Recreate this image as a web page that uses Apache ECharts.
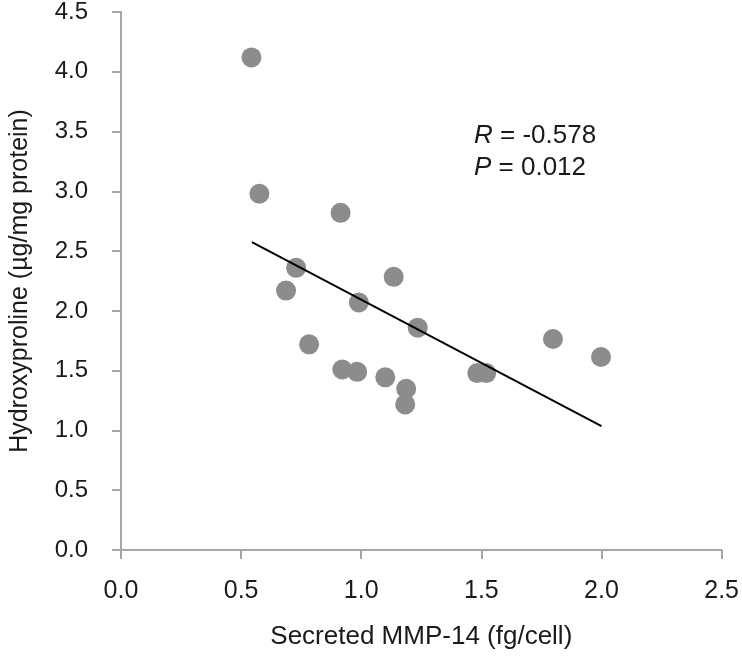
<!DOCTYPE html>
<html>
<head>
<meta charset="utf-8">
<script src="https://cdn.jsdelivr.net/npm/echarts@6/dist/echarts.min.js"></script>
<style>
html,body{margin:0;padding:0;background:#fff;}
#chart{width:742px;height:663px;}
</style>
</head>
<body>
<div id="chart"></div>
<script>
// Data
var mmp14 = [0.543, 0.576, 0.914, 0.729, 0.687, 0.990, 1.135, 1.235, 1.798, 1.998, 1.483, 1.520, 1.100, 1.187, 1.183, 0.783, 0.921, 0.983];
var hydroxyproline = [4.12, 2.98, 2.82, 2.36, 2.17, 2.07, 2.285, 1.86, 1.765, 1.614, 1.48, 1.48, 1.444, 1.349, 1.218, 1.72, 1.51, 1.49];
var trendX = [0.545, 2.0];
var trendY = [2.575, 1.037];
var xTicks = [0, 0.5, 1.0, 1.5, 2.0, 2.5];
var yTicks = [0, 0.5, 1.0, 1.5, 2.0, 2.5, 3.0, 3.5, 4.0, 4.5];
var statR = '-0.578';
var statP = '0.012';

var points = mmp14.map(function (x, i) { return [x, hydroxyproline[i]]; });
var trend = trendX.map(function (x, i) { return [x, trendY[i]]; });

var axisGray = '#a6a6a6';
var font = 'Liberation Sans, Arial, sans-serif';
var chart = echarts.init(document.getElementById('chart'), null, {renderer: 'canvas'});
chart.setOption({
  animation: false,
  backgroundColor: '#ffffff',
  grid: {left: 120, right: 16, top: 12, bottom: 113, containLabel: false},
  xAxis: {
    type: 'value', min: xTicks[0], max: xTicks[xTicks.length - 1], interval: 0.5,
    name: 'Secreted MMP-14 (fg/cell)', nameLocation: 'middle', nameGap: 74,
    nameTextStyle: {fontFamily: font, fontSize: 26, color: '#1a1a1a'},
    axisLine: {show: true, lineStyle: {color: axisGray, width: 2}},
    axisTick: {show: true, length: 9, lineStyle: {color: axisGray, width: 2}},
    axisLabel: {margin: 29, fontFamily: font, fontSize: 25, color: '#1a1a1a',
      formatter: function (v) { return v.toFixed(1); }},
    splitLine: {show: false}
  },
  yAxis: {
    type: 'value', min: yTicks[0], max: yTicks[yTicks.length - 1], interval: 0.5,
    name: 'Hydroxyproline (µg/mg protein)', nameLocation: 'middle', nameGap: 88,
    nameTextStyle: {fontFamily: font, fontSize: 25, color: '#1a1a1a'},
    axisLine: {show: true, lineStyle: {color: axisGray, width: 2}},
    axisTick: {show: true, length: 9, lineStyle: {color: axisGray, width: 2}},
    axisLabel: {margin: 33, fontFamily: font, fontSize: 24, color: '#1a1a1a',
      formatter: function (v) { return v.toFixed(1); }},
    splitLine: {show: false}
  },
  graphic: [{
    type: 'text', left: 474, top: 120,
    style: {
      text: '{i|R} = ' + statR + '\n{i|P} = ' + statP,
      fontFamily: font, fontSize: 26, lineHeight: 32, fill: '#1a1a1a',
      rich: {i: {fontStyle: 'italic', fontFamily: font, fontSize: 26, lineHeight: 32}}
    }
  }],
  series: [{
    type: 'scatter', data: points, symbol: 'circle', symbolSize: 20,
    itemStyle: {color: '#8c8c8c', opacity: 1}, z: 2
  }, {
    type: 'line', data: trend, symbol: 'none', silent: true,
    lineStyle: {color: '#000000', width: 2}, z: 3
  }]
});
</script>
</body>
</html>
